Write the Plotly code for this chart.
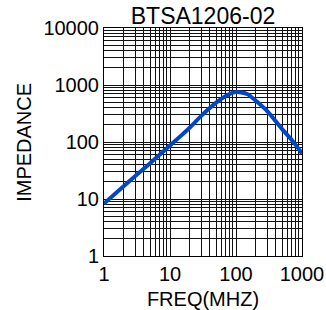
import plotly.graph_objects as go

title_text = "BTSA1206-02"
x_title = "FREQ(MHZ)"
y_title = "IMPEDANCE"

freq_mhz = [1, 2, 5, 10, 15, 20, 30, 50, 70, 90, 100, 120, 150, 200, 300, 500, 700, 1000]
impedance = [8.3, 16.9, 42.5, 87, 132, 180, 290, 490, 640, 735, 750, 740, 690, 530, 345, 168, 108, 63]

x_tick_major = [1, 10, 100, 1000]
y_tick_major = [1, 10, 100, 1000, 10000]
multipliers = [1, 2, 3, 4, 5, 6, 7, 8, 9]

def grid_ticks(majors):
    vals, texts = [], []
    for i, m in enumerate(majors):
        if i == len(majors) - 1:
            vals.append(m)
            texts.append(str(m))
            break
        for k in multipliers:
            vals.append(m * k)
            texts.append(str(m) if k == 1 else "")
    return vals, texts

xv, xt = grid_ticks(x_tick_major)
yv, yt = grid_ticks(y_tick_major)

font_family = "Arial, Liberation Sans, sans-serif"

fig = go.Figure()
fig.add_trace(go.Scatter(
    x=freq_mhz, y=impedance, mode="lines",
    line=dict(color="#0046C8", width=4, shape="spline", smoothing=0.6),
    showlegend=False, hoverinfo="skip",
))

axis_common = dict(
    type="log", showgrid=True, gridcolor="#111111", gridwidth=1,
    showline=True, linecolor="black", linewidth=1, mirror=True,
    ticks="", zeroline=False, automargin=False,
    tickfont=dict(family=font_family, size=20, color="black"),
)

fig.update_xaxes(
    range=[0, 3], tickmode="array", tickvals=xv, ticktext=xt,
    title=dict(text=x_title, font=dict(family=font_family, size=20, color="black")),
    **axis_common,
)
fig.update_yaxes(
    range=[0, 4], tickmode="array", tickvals=yv, ticktext=yt,
    **axis_common,
)

fig.add_annotation(
    text=y_title, textangle=-90, showarrow=False,
    xref="paper", yref="paper", x=-0.405, y=0.5,
    xanchor="center", yanchor="middle",
    font=dict(family=font_family, size=20, color="black"),
)

fig.update_layout(
    width=326, height=310,
    margin=dict(l=104, r=24, t=28, b=54),
    paper_bgcolor="white", plot_bgcolor="white",
    title=dict(text=title_text, x=0.5, xref="paper", xanchor="center",
               y=0.948, yref="container", yanchor="middle",
               font=dict(family=font_family, size=23, color="black")),
)

fig.write_html("out.html", config={"displayModeBar": False},
               post_script="document.body.style.margin='0';document.body.style.overflow='hidden';")
